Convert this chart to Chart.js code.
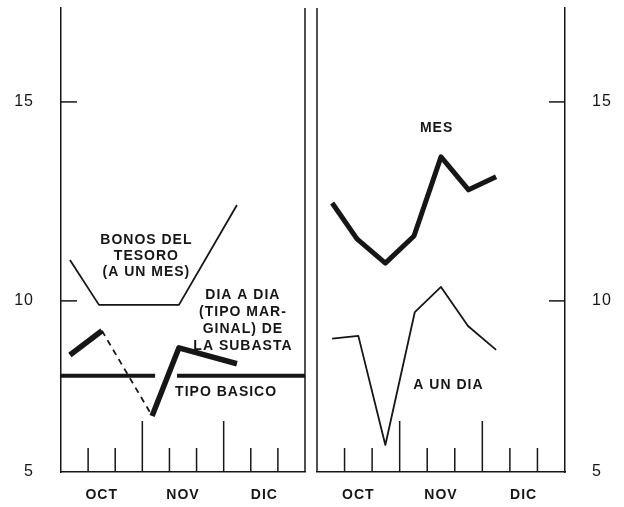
<!DOCTYPE html>
<html>
<head>
<meta charset="utf-8">
<script src="https://cdn.jsdelivr.net/npm/chart.js@4.4.0/dist/chart.umd.min.js"></script>
<style>
  body { margin: 0; background: #fff; }
  .panel { position: absolute; top: 0; }
</style>
</head>
<body>
<div class="panel" style="left:0"><canvas id="leftChart" width="320" height="507"></canvas></div>
<div class="panel" style="left:310px"><canvas id="rightChart" width="314" height="507"></canvas></div>
<script>
// x runs in ten-day periods: 0 = start of OCT, 9 = end of DIC
const months = ['OCT', 'NOV', 'DIC'];
const monthCentres = [1.5, 4.5, 7.5];
const yTickValues = [5, 10, 15];

// left panel: Bonos del Tesoro, dia a dia, tipo basico
const bonosX = [0.33, 1.4, 4.35, 6.49];
const bonosY = [11.03, 9.9, 9.9, 12.41];
const diaX = [0.33, 1.51, 3.36, 4.35, 6.49];
const diaY = [8.64, 9.25, 7.11, 8.82, 8.42];
const basicoX = [0, 3.47, 3.9, 4.28, 9];
const basicoY = [8.12, 8.12, null, 8.12, 8.12];

// right panel: a un dia, mes
const mesX = [0.55, 1.45, 2.48, 3.52, 4.5, 5.5, 6.5];
const mesY = [12.46, 11.56, 10.95, 11.63, 13.62, 12.79, 13.12];
const unDiaX = [0.55, 1.5, 2.48, 3.55, 4.5, 5.48, 6.5];
const unDiaY = [9.05, 9.12, 6.38, 9.72, 10.35, 9.37, 8.77];

const ink = '#161616';
const font = '"Liberation Sans", Arial, sans-serif';
const yMin = 5.7, yMax = 17.36;   // the printed axis is broken: its floor is labelled 5

const pts = (xs, ys) => xs.map((x, i) => ({ x: x, y: ys[i] }));

const panelPlugin = {
  id: 'panel',
  beforeDraw(chart) {
    chart.ctx.letterSpacing = '1px';
  },
  afterDraw(chart, args, opts) {
    const { ctx, chartArea: a, scales: { x, y } } = chart;
    const left = opts.side === 'left';
    const line = (x1, y1, x2, y2) => { ctx.beginPath(); ctx.moveTo(x1, y1); ctx.lineTo(x2, y2); ctx.stroke(); };
    ctx.save();
    ctx.strokeStyle = ink;
    ctx.lineWidth = 1.5;
    const edge = left ? a.right : a.left;
    line(edge, a.top, edge, a.bottom);
    const axisX = left ? a.left : a.right;
    const dir = left ? 1 : -1;
    [10, 15].forEach(v => {
      const py = y.getPixelForValue(v);
      line(axisX, py, axisX + dir * 16, py);
    });
    for (let d = 1; d < 9; d++) {
      const px = x.getPixelForValue(d);
      line(px, a.bottom, px, a.bottom - (d % 3 === 0 ? 51 : 24));
    }
    ctx.fillStyle = ink;
    ctx.font = 'bold 14px ' + font;
    ctx.letterSpacing = '1px';
    ctx.textAlign = 'center';
    ctx.textBaseline = 'middle';
    opts.notes.forEach(n => {
      n.lines.forEach((t, i) => {
        ctx.fillText(t, x.getPixelForValue(n.x), y.getPixelForValue(n.y) + i * n.lead);
      });
    });
    ctx.restore();
  }
};

function makePanel(id, side, datasets, notes) {
  const left = side === 'left';
  return new Chart(document.getElementById(id), {
    type: 'line',
    data: { datasets: datasets },
    options: {
      responsive: false,
      animation: false,
      layout: { padding: left ? { top: 8, right: 15 } : { top: 8, left: 7 } },
      elements: { point: { radius: 0 }, line: { tension: 0, borderColor: ink, borderJoinStyle: 'round' } },
      plugins: {
        legend: { display: false },
        tooltip: { enabled: false },
        panel: { side: side, notes: notes }
      },
      scales: {
        x: {
          type: 'linear', min: 0, max: 9,
          grid: { display: false, drawTicks: false },
          border: { color: ink, width: 1.5 },
          afterBuildTicks: s => { s.ticks = monthCentres.map(v => ({ value: v })); },
          afterFit: s => { s.height = 35; s.paddingLeft = 0; s.paddingRight = 0; },
          ticks: {
            color: ink, padding: 15, maxRotation: 0, autoSkip: false,
            font: { family: font, size: 14, weight: 'bold' },
            callback: v => months[monthCentres.indexOf(v)]
          }
        },
        y: {
          position: side, min: yMin, max: yMax,
          grid: { display: false, drawTicks: false },
          border: { color: ink, width: 1.5 },
          afterBuildTicks: s => { s.ticks = yTickValues.map(v => ({ value: Math.max(v, yMin) })); },
          afterFit: s => { s.width = left ? 61 : 59; s.paddingTop = 0; s.paddingBottom = 0; },
          ticks: {
            color: ink, padding: 27, autoSkip: false,
            font: { family: font, size: 16 },
            callback: v => v <= yMin ? '5' : String(v)
          }
        }
      }
    },
    plugins: [panelPlugin]
  });
}

makePanel('leftChart', 'left', [
  { data: pts(bonosX, bonosY), borderWidth: 1.8 },
  {
    data: pts(diaX, diaY), borderWidth: 5.5,
    segment: {
      borderDash: c => c.p0DataIndex === 1 ? [6, 5] : undefined,
      borderWidth: c => c.p0DataIndex === 1 ? 1.8 : undefined
    }
  },
  { data: pts(basicoX, basicoY), borderWidth: 4, spanGaps: false }
], [
  { lines: ['BONOS DEL', 'TESORO', '(A UN MES)'], x: 3.15, y: 11.53, lead: 16 },
  { lines: ['DIA A DIA', '(TIPO MAR-', 'GINAL) DE', 'LA SUBASTA'], x: 6.71, y: 10.15, lead: 17 },
  { lines: ['TIPO BASICO'], x: 6.09, y: 7.71, lead: 0 }
]);

makePanel('rightChart', 'right', [
  { data: pts(mesX, mesY), borderWidth: 5 },
  { data: pts(unDiaX, unDiaY), borderWidth: 1.8 }
], [
  { lines: ['MES'], x: 4.34, y: 14.35, lead: 0 },
  { lines: ['A UN DIA'], x: 4.77, y: 7.89, lead: 0 }
]);
</script>
</body>
</html>
